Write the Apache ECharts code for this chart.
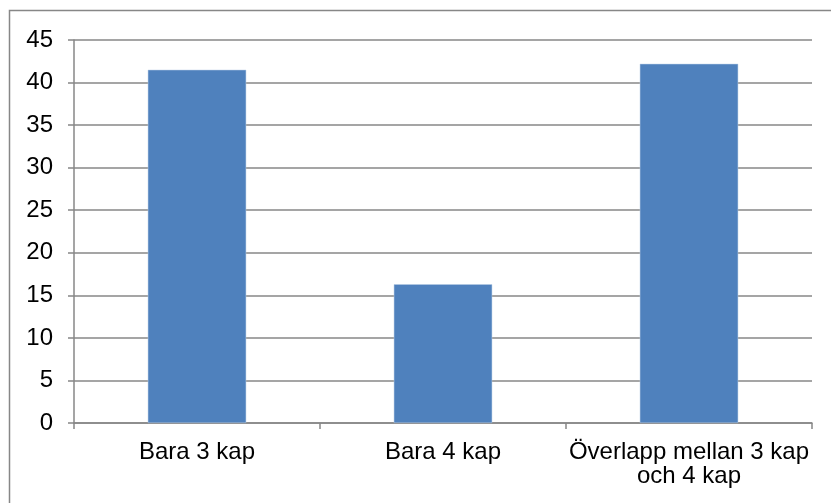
<!DOCTYPE html>
<html>
<head>
<meta charset="utf-8">
<script src="https://cdn.jsdelivr.net/npm/echarts@6/dist/echarts.min.js"></script>
<style>
  html, body { margin: 0; padding: 0; background: #fff; }
  #chart { width: 831px; height: 503px; }
</style>
</head>
<body>
<div id="chart"></div>
<script>
// Categories and values
const categories = ['Bara 3 kap', 'Bara 4 kap', 'Överlapp mellan 3 kap\noch 4 kap'];
const values = [41.5, 16.3, 42.2];
const yTicks = { min: 0, max: 45, interval: 5 };

const gray = '#878787';
const font = 'Liberation Sans';
const chart = echarts.init(document.getElementById('chart'), null, { renderer: 'canvas' });

chart.setOption({
  animation: false,
  backgroundColor: '#ffffff',
  graphic: [{
    type: 'rect',
    shape: { x: 9.5, y: 10.5, width: 900, height: 600 },
    style: { fill: 'none', stroke: gray, lineWidth: 1.5 },
    silent: true
  }],
  grid: { left: 74, right: 19, top: 40, bottom: 80, containLabel: false },
  xAxis: {
    type: 'category',
    data: categories,
    boundaryGap: true,
    axisLine: { show: true, lineStyle: { color: gray, width: 1.5 } },
    axisTick: { show: true, length: 6, lineStyle: { color: gray, width: 1.5 }, alignWithLabel: false },
    axisLabel: {
      color: '#000', fontFamily: font, fontSize: 24,
      margin: 17, lineHeight: 24, interval: 0, align: 'center'
    },
    splitLine: { show: false }
  },
  yAxis: {
    type: 'value',
    min: yTicks.min, max: yTicks.max, interval: yTicks.interval,
    axisLine: { show: true, lineStyle: { color: gray, width: 1.5 } },
    axisTick: { show: true, length: 6, lineStyle: { color: gray, width: 1.5 } },
    axisLabel: { color: '#000', fontFamily: font, fontSize: 24, margin: 21 },
    splitLine: { show: true, lineStyle: { color: gray, width: 1.5 } }
  },
  series: [{
    type: 'bar',
    data: values,
    barWidth: '40%',
    itemStyle: { color: '#4f81bd', borderColor: '#b9cde5', borderWidth: 0.5 }
  }]
});
</script>
</body>
</html>
